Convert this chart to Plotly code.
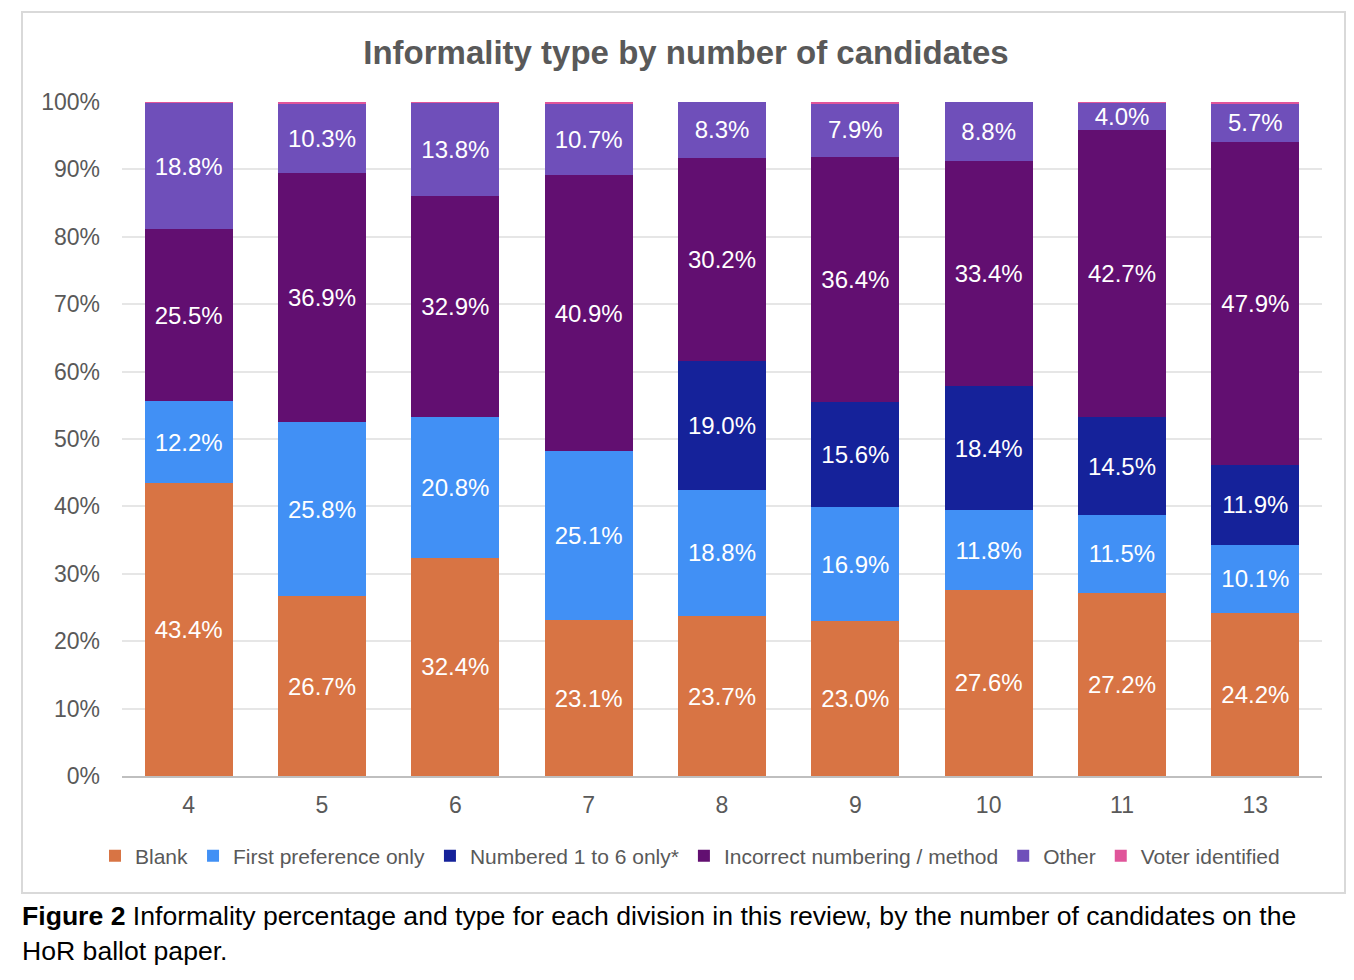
import plotly.graph_objects as go

categories = ["4", "5", "6", "7", "8", "9", "10", "11", "13"]
blank = [43.4, 26.7, 32.4, 23.1, 23.7, 23.0, 27.6, 27.2, 24.2]
first_pref = [12.2, 25.8, 20.8, 25.1, 18.8, 16.9, 11.8, 11.5, 10.1]
numbered_1_6 = [0, 0, 0, 0, 19.0, 15.6, 18.4, 14.5, 11.9]
incorrect = [25.5, 36.9, 32.9, 40.9, 30.2, 36.4, 33.4, 42.7, 47.9]
other = [18.8, 10.3, 13.8, 10.7, 8.3, 7.9, 8.8, 4.0, 5.7]
voter_id = [0.1, 0.3, 0.1, 0.2, 0.0, 0.2, 0.0, 0.1, 0.2]

series = [
    ("Blank", blank, "#D87444", True),
    ("First preference only", first_pref, "#4190F5", True),
    ("Numbered 1 to 6 only*", numbered_1_6, "#15229A", True),
    ("Incorrect numbering / method", incorrect, "#620F71", True),
    ("Other", other, "#6F4FBA", True),
    ("Voter identified", voter_id, "#E0559A", False),
]

OFF = 8  # page body margin
W, H = 1354 - 2 * OFF, 980 - 2 * OFF
# reference plot area in page pixels
PL, PR, PT, PB = 122, 1322, 102, 776
L, T = PL - OFF, PT - OFF
R, B = W - (PR - OFF), H - (PB - OFF)
pw, ph = PR - PL, PB - PT

def px(x):
    return (x - PL) / pw

def py(y):
    return (PB - y) / ph

FONT = "Liberation Sans, Arial, sans-serif"

fig = go.Figure()
for name, vals, color, show in series:
    texts = [f"{v:.1f}%" if (show and v > 0) else "" for v in vals]
    fig.add_trace(go.Bar(
        name=name, x=categories, y=vals, marker=dict(color=color, line=dict(width=0)),
        text=texts, textposition="inside" if show else "none",
        insidetextanchor="middle", textangle=0, constraintext="none",
        textfont=dict(color="white", size=24, family=FONT),
        hoverinfo="name+y",
    ))

fig.update_layout(
    width=W, height=H,
    barmode="stack", bargap=0.34,
    uniformtext=dict(mode=False),
    margin=dict(l=L, r=R, t=T, b=B, autoexpand=False),
    paper_bgcolor="white", plot_bgcolor="white",
    font=dict(family=FONT, color="#595959", size=23),
    title=dict(text="<b>Informality type by number of candidates</b>",
               x=(686 - OFF) / W, xanchor="center", y=1 - (52 - OFF) / H, yanchor="middle",
               xref="container", yref="container",
               font=dict(size=33, color="#595959", family=FONT)),
    xaxis=dict(type="category", showgrid=False, showline=True, linecolor="#BFBFBF",
               linewidth=1.5, ticks="", ticklabelstandoff=8,
               tickfont=dict(size=23, color="#595959")),
    yaxis=dict(range=[0, 100], dtick=10, ticksuffix="%", showgrid=True,
               gridcolor="#E6E6E6", gridwidth=1.5, zeroline=False, showline=False,
               ticklabelstandoff=21,
               tickfont=dict(size=23, color="#595959")),
    legend=dict(orientation="h", x=px(690), xanchor="center",
                y=py(856), yanchor="middle",
                font=dict(size=21, color="#595959", family=FONT), traceorder="normal",
                itemwidth=30, tracegroupgap=0, bgcolor="rgba(0,0,0,0)"),
    showlegend=True,
)

fig.add_shape(type="rect", xref="paper", yref="paper",
              x0=px(22), x1=px(1345), y0=py(893), y1=py(12),
              line=dict(color="#D9D9D9", width=2), fillcolor="rgba(0,0,0,0)", layer="below")

fig.add_annotation(
    xref="paper", yref="paper", x=px(20), y=py(899), xanchor="left", yanchor="top",
    align="left", showarrow=False,
    text="<b>Figure 2</b> Informality percentage and type for each division in this review, by the number of candidates on the<br>HoR ballot paper.",
    font=dict(size=26.6, color="black", family=FONT),
)

fig.write_html("out.html")
